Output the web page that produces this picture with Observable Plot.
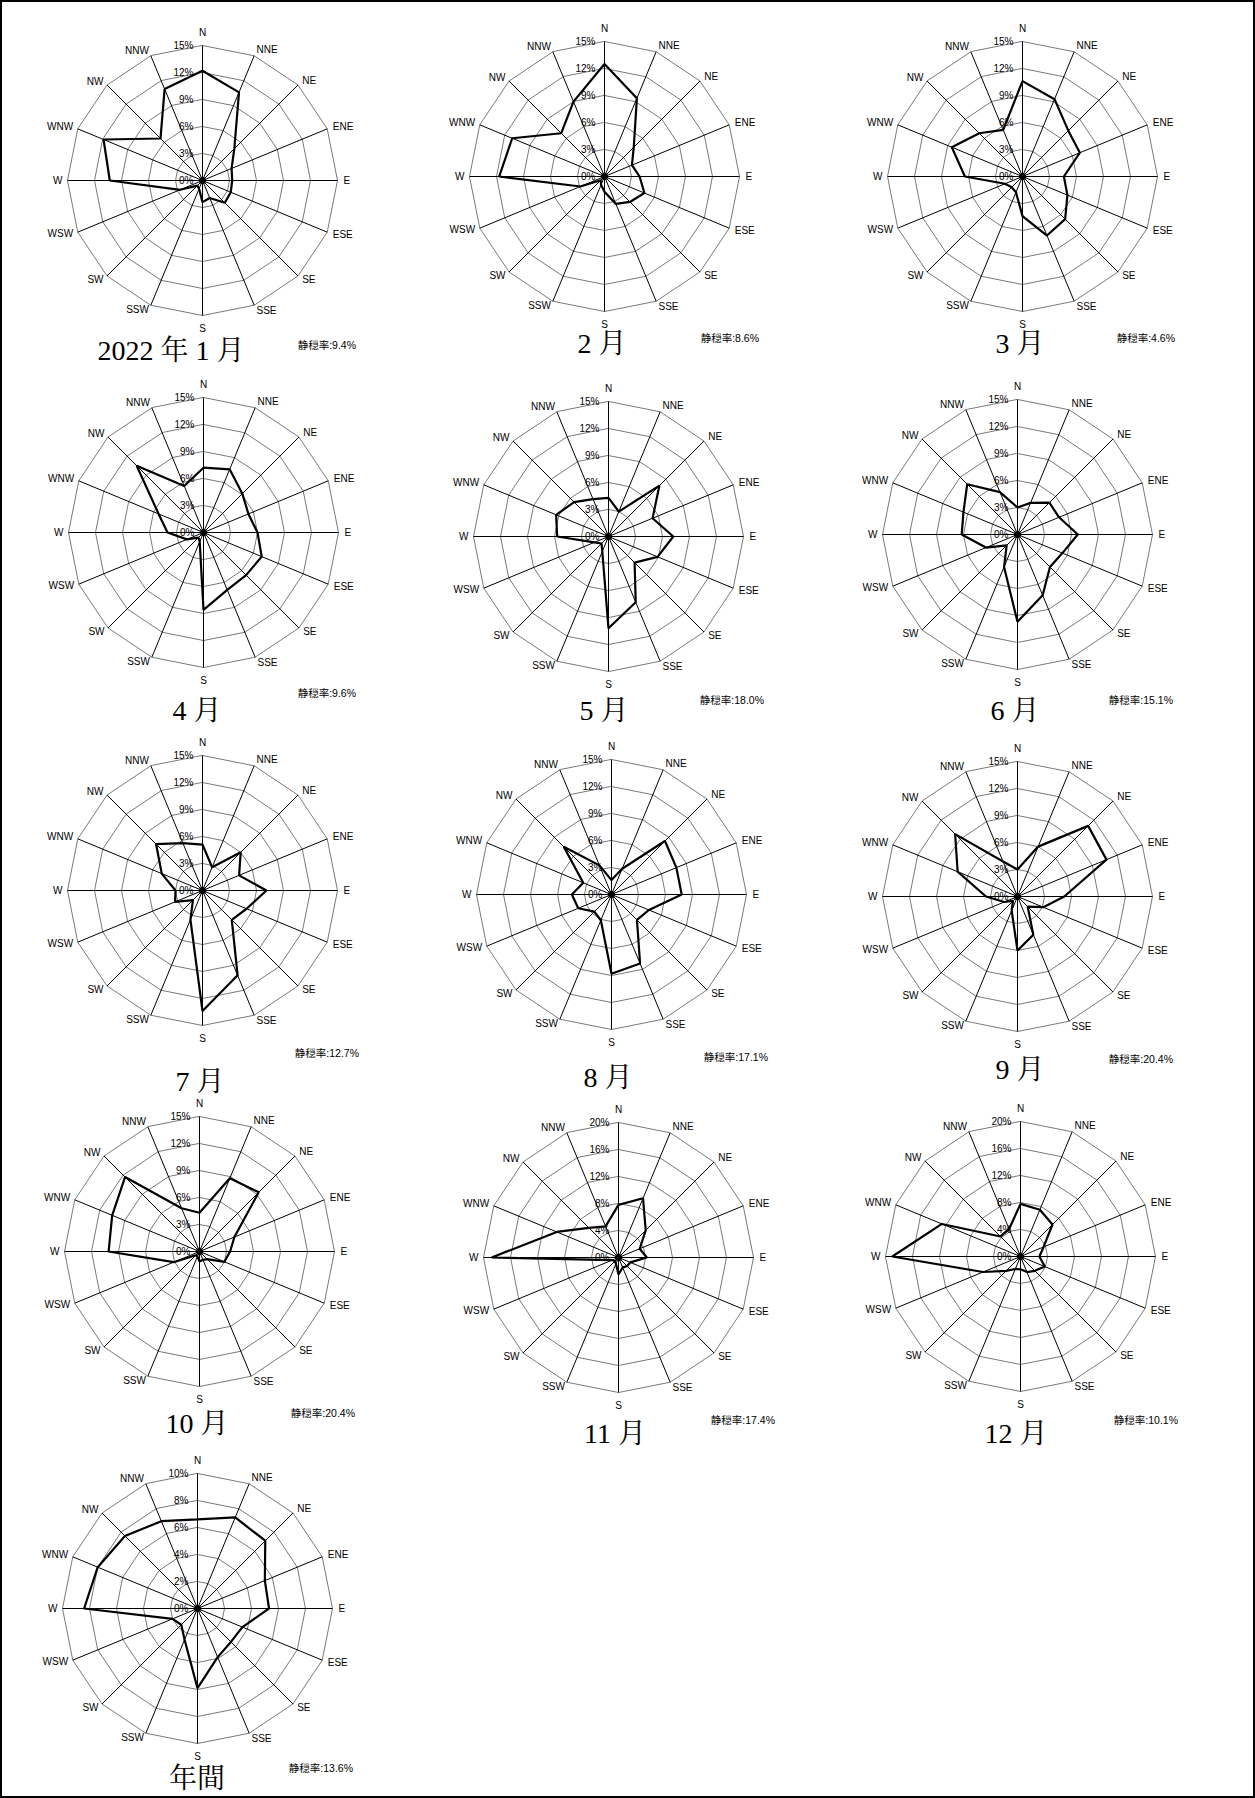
<!DOCTYPE html>
<html><head><meta charset="utf-8">
<script src="https://cdn.jsdelivr.net/npm/d3@7"></script>
<script src="https://cdn.jsdelivr.net/npm/@observablehq/plot@0.6"></script>
<style>
body{margin:0;background:#fff;}
#page{position:relative;width:1255px;height:1798px;box-sizing:border-box;border:2px solid #000;background:#fff;overflow:hidden;}
.rose{position:absolute;}
.title{position:absolute;font-family:"Liberation Serif","DejaVu Serif","Noto Serif CJK JP","Noto Sans CJK JP",serif;font-size:28px;line-height:28px;white-space:nowrap;transform:translateX(-50%);color:#000;}
.calm{position:absolute;font-family:"Liberation Sans Narrow","Liberation Sans","Noto Sans CJK JP",sans-serif;font-size:10.5px;line-height:10px;white-space:nowrap;transform:translateX(-100%);color:#000;}
</style></head><body><div id="page"></div>
<script>
// ---- data ----
const directions = ["N","NNE","NE","ENE","E","ESE","SE","SSE","S","SSW","SW","WSW","W","WNW","NW","NNW"];
const titles = ["2022 年 1 月","2 月","3 月","4 月","5 月","6 月","7 月","8 月","9 月","10 月","11 月","12 月","年間"];
const calmRates = ["9.4%","8.6%","4.6%","9.6%","18.0%","15.1%","12.7%","17.1%","20.4%","20.4%","17.4%","10.1%","13.6%"];
const axisMax = [15,15,15,15,15,15,15,15,15,15,20,20,10];
const tickStep = [3,3,3,3,3,3,3,3,3,3,4,4,2];
const jan = [12.2,10.6,5.0,3.5,3.3,3.4,3.5,2.1,2.4,1.0,0.8,2.7,10.3,11.9,6.6,11.0];
const feb = [12.5,9.4,4.6,3.3,3.9,4.8,4.0,3.3,1.7,1.0,0.6,2.9,11.7,11.1,6.8,9.0];
const mar = [10.6,9.3,7.2,6.9,4.6,5.4,6.7,7.1,4.4,1.9,1.7,2.1,6.4,8.5,6.8,5.6];
const apr = [7.2,7.6,6.1,5.4,6.0,7.0,6.7,6.9,8.6,1.1,0.8,2.0,4.0,5.4,10.5,5.6];
const may = [4.3,3.0,8.0,5.3,7.2,5.9,4.1,7.9,10.2,1.8,1.1,1.7,5.7,6.3,5.4,4.5];
const jun = [3.0,3.8,5.0,5.0,6.7,5.4,5.1,7.3,9.7,3.9,1.7,3.8,6.2,6.5,7.9,5.1];
const jul = [5.1,2.8,6.0,4.4,7.1,5.3,4.6,10.2,13.4,3.5,1.5,3.3,3.0,4.9,7.3,5.7];
const aug = [1.6,3.1,8.4,7.8,7.8,4.5,4.0,8.3,8.8,3.1,2.7,4.0,4.4,3.4,7.5,3.5];
const sep = [3.0,6.0,11.1,10.7,5.2,3.1,1.6,4.6,6.0,1.7,0.7,1.6,3.5,7.2,9.8,4.2];
const oct = [4.3,8.8,9.3,4.2,3.4,3.0,1.2,1.0,1.1,0.6,0.6,3.1,10.1,10.5,11.7,5.2];
const nov = [7.8,9.5,5.7,3.4,4.2,1.9,1.8,1.6,2.5,1.0,0.8,1.0,18.8,9.9,6.2,5.0];
const dec = [7.8,7.5,6.7,3.7,2.8,3.9,3.0,2.5,1.9,2.0,3.0,6.0,19.0,12.6,4.2,4.4];
const annual = [6.6,7.3,7.1,5.4,5.3,3.6,3.5,3.9,5.9,2.5,1.7,2.0,8.4,8.0,7.6,7.0];
const series = [jan,feb,mar,apr,may,jun,jul,aug,sep,oct,nov,dec,annual];

// ---- layout (page pixels) ----
const layout = [
  {cx:202, cy:180, tx:171, ty:360, calmX:356, calmY:345},
  {cx:604, cy:176, tx:602, ty:353, calmX:759, calmY:338},
  {cx:1022,cy:176, tx:1020,ty:353, calmX:1175,calmY:338},
  {cx:203, cy:532, tx:197, ty:720, calmX:356, calmY:693},
  {cx:608, cy:536, tx:604, ty:720, calmX:764, calmY:700},
  {cx:1017,cy:534, tx:1015,ty:720, calmX:1173,calmY:700},
  {cx:202, cy:890, tx:200, ty:1091,calmX:359, calmY:1053},
  {cx:611, cy:894, tx:608, ty:1087,calmX:768, calmY:1057},
  {cx:1017,cy:896, tx:1020,ty:1079,calmX:1173,calmY:1059},
  {cx:199, cy:1251,tx:197, ty:1433,calmX:355, calmY:1413},
  {cx:618, cy:1257,tx:615, ty:1443,calmX:775, calmY:1420},
  {cx:1020,cy:1256,tx:1016,ty:1443,calmX:1178,calmY:1420},
  {cx:197, cy:1608,tx:197, ty:1788,calmX:353, calmY:1768}
];

const W = 380, H = 400, CX = 190, CY = 180, R = 135, SIDE_R = 141, POLE_R = 148;
const narrow = '"Liberation Sans Narrow","Liberation Sans",Arial,sans-serif';
const ang = i => i * Math.PI / 8;

function rose(values, max, step) {
  const k = max / R;
  const ticks = d3.range(step, max + 1e-9, step);
  const dirs = directions.map((name, i) => ({name, i}));
  const ringPts = ticks.flatMap(t => dirs.map(d => ({t, i: d.i})));
  const pts = values.map((v, i) => ({v, i}));
  const lx = r => d => r * k * Math.sin(ang(d.i));
  const ly = r => d => r * k * Math.cos(ang(d.i));
  const labelOpts = {text: "name", fontSize: 10, fill: "#000"};
  return Plot.plot({
    width: W, height: H, margin: 0,
    x: {domain: [-CX * k, (W - CX) * k], axis: null},
    y: {domain: [-(H - CY) * k, CY * k], axis: null},
    style: {background: "transparent", overflow: "visible", fontFamily: narrow},
    marks: [
      Plot.line(ringPts, {x: d => d.t * Math.sin(ang(d.i)), y: d => d.t * Math.cos(ang(d.i)), z: "t", curve: "linear-closed", stroke: "#7a7a7a", strokeWidth: 1}),
      Plot.link(dirs, {x1: 0, y1: 0, x2: d => max * Math.sin(ang(d.i)), y2: d => max * Math.cos(ang(d.i)), stroke: "#000", strokeWidth: 1}),
      Plot.line(pts, {x: d => d.v * Math.sin(ang(d.i)), y: d => d.v * Math.cos(ang(d.i)), curve: "linear-closed", stroke: "#000", strokeWidth: 2.2, strokeLinejoin: "miter"}),
      Plot.dot([0], {x: 0, y: 0, r: 3.5, fill: "#000"}),
      Plot.text(dirs.filter(d => d.i > 0 && d.i < 8), {x: lx(SIDE_R), y: ly(SIDE_R), textAnchor: "start", ...labelOpts}),
      Plot.text(dirs.filter(d => d.i > 8), {x: lx(SIDE_R - 1), y: ly(SIDE_R - 1), textAnchor: "end", ...labelOpts}),
      Plot.text(dirs.filter(d => d.i % 8 === 0), {x: lx(POLE_R), y: ly(POLE_R), textAnchor: "middle", ...labelOpts}),
      Plot.text([0, ...ticks], {x: 0, y: d => d, text: d => d + "%", textAnchor: "end", dx: -9, fontSize: 10, fill: "#000"})
    ]
  });
}

const page = document.getElementById("page");
series.forEach((vals, j) => {
  const L = layout[j];
  const svg = rose(vals, axisMax[j], tickStep[j]);
  svg.classList.add("rose");
  svg.style.left = (L.cx - CX - 2) + "px";
  svg.style.top = (L.cy - CY - 2) + "px";
  page.appendChild(svg);
  const t = document.createElement("div");
  t.className = "title";
  t.textContent = titles[j];
  t.style.left = (L.tx - 2) + "px";
  t.style.top = (L.ty - 23 - 2) + "px";
  page.appendChild(t);
  const c = document.createElement("div");
  c.className = "calm";
  c.textContent = "静穏率:" + calmRates[j];
  c.style.left = (L.calmX - 2) + "px";
  c.style.top = (L.calmY - 5 - 2) + "px";
  page.appendChild(c);
});
</script></body></html>
